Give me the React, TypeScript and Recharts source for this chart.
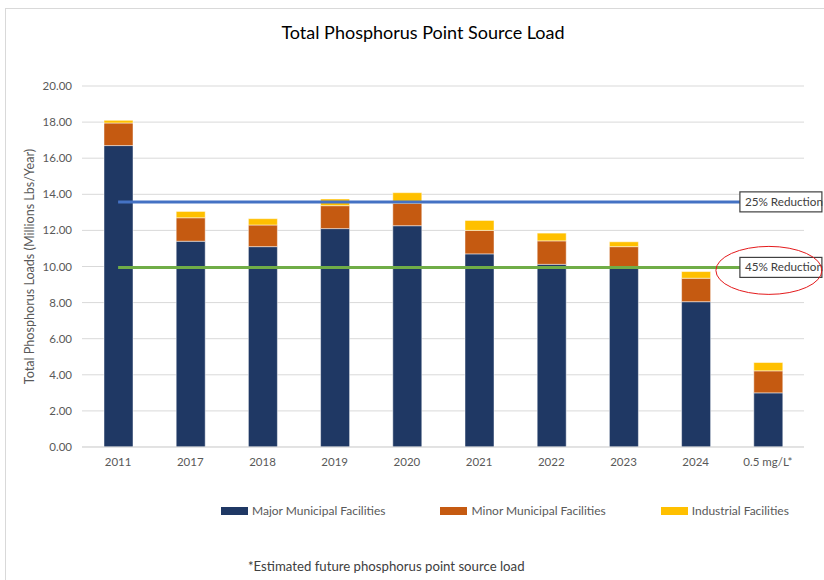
import React from 'react';
import { BarChart, Bar, XAxis, YAxis, CartesianGrid, ReferenceLine } from 'recharts';

const CATEGORIES = ['2011', '2017', '2018', '2019', '2020', '2021', '2022', '2023', '2024', '0.5 mg/L*'];
const MAJOR = [16.7, 11.4, 11.1, 12.1, 12.26, 10.7, 10.12, 9.95, 8.05, 3.0];
const MINOR = [1.25, 1.3, 1.2, 1.27, 1.24, 1.3, 1.3, 1.15, 1.3, 1.22];
const INDUSTRIAL = [0.15, 0.35, 0.35, 0.37, 0.59, 0.55, 0.43, 0.27, 0.37, 0.46];
const Y_TICKS = [0, 2, 4, 6, 8, 10, 12, 14, 16, 18, 20];

const SERIES = [
  { key: 'major', name: 'Major Municipal Facilities', color: '#1f3864' },
  { key: 'minor', name: 'Minor Municipal Facilities', color: '#c55a11' },
  { key: 'industrial', name: 'Industrial Facilities', color: '#ffc000' },
];

const TARGETS = [
  { label: '25% Reduction', value: 13.58, color: '#4472c4', circled: false },
  { label: '45% Reduction', value: 9.95, color: '#70ad47', circled: true },
];

const data = CATEGORIES.map((c, i) => ({
  category: c,
  major: MAJOR[i],
  minor: MINOR[i],
  industrial: INDUSTRIAL[i],
}));

const FONT = 'Lato, "Open Sans", sans-serif';
const GREY = '#595959';

const TargetLabel = ({ viewBox, text, circled }: any) => {
  if (!viewBox) return null;
  const x = viewBox.x + viewBox.width - 28;
  const y = viewBox.y;
  return (
    <g>
      <rect x={x} y={y - 10} width={82} height={20} fill="#fff" stroke="#404040" strokeWidth={1.2} />
      <text x={x + 5} y={y + 4} fontSize={11.7} fill="#404040" fontFamily={FONT}>{text}</text>
      {circled && <ellipse cx={x + 29} cy={y + 3} rx={53} ry={24} fill="none" stroke="#e41a1c" strokeWidth={1} />}
    </g>
  );
};

export default function App() {
  return (
    <div style={{ position: 'relative', width: 824, height: 580, overflow: 'hidden', fontFamily: FONT, background: '#fff' }}>
      <style>{'body{margin:0}'}</style>
      <div style={{ position: 'absolute', left: 5, top: 8, width: 840, height: 600, border: '1px solid #d9d9d9' }} />
      <div style={{ position: 'absolute', left: 11, top: 21, width: 824, textAlign: 'center', fontSize: 18, color: '#000' }}>
        Total Phosphorus Point Source Load
      </div>
      <BarChart
        width={824}
        height={580}
        data={data}
        margin={{ top: 86, right: 20, bottom: 103, left: 22 }}
        barSize={29}
      >
        <CartesianGrid vertical={false} stroke="#d9d9d9" />
        <XAxis
          dataKey="category"
          height={30}
          axisLine={{ stroke: '#d9d9d9' }}
          tickLine={false}
          tickSize={0}
          tickMargin={11}
          tick={{ fontSize: 11.5, fill: GREY, fontFamily: FONT }}
        />
        <YAxis
          width={60}
          domain={[0, 20]}
          ticks={Y_TICKS}
          axisLine={false}
          tickLine={false}
          tickSize={0}
          tickMargin={10}
          tickFormatter={(v: number) => v.toFixed(2)}
          tick={{ fontSize: 11.5, fill: GREY, fontFamily: FONT }}
          label={{
            value: 'Total Phosphorus Loads (Millions Lbs/Year)',
            angle: -90,
            position: 'insideLeft',
            offset: 8,
            style: { textAnchor: 'middle', fontSize: 12.6, fill: GREY, fontFamily: FONT },
          }}
        />
        {SERIES.map((s) => (
          <Bar
            key={s.key}
            dataKey={s.key}
            name={s.name}
            stackId="load"
            fill={s.color}
            stroke="#ffffff"
            strokeOpacity={0.6}
            strokeWidth={0.8}
            isAnimationActive={false}
          />
        ))}
        {TARGETS.map((t) => (
          <ReferenceLine
            key={t.label}
            segment={[
              { x: CATEGORIES[0], y: t.value },
              { x: CATEGORIES[CATEGORIES.length - 1], y: t.value },
            ]}
            stroke={t.color}
            strokeWidth={3}
            label={(p: any) => <TargetLabel {...p} text={t.label} circled={t.circled} />}
          />
        ))}
      </BarChart>
      <div style={{ position: 'absolute', left: 221, top: 503, display: 'flex', alignItems: 'center', fontSize: 12, color: GREY }}>
        {SERIES.map((s, i) => (
          <div key={s.key} style={{ display: 'flex', alignItems: 'center', marginLeft: i === 0 ? 0 : 55 }}>
            <span style={{ display: 'inline-block', width: 27, height: 8, background: s.color, marginRight: 4 }} />
            <span>{s.name}</span>
          </div>
        ))}
      </div>
      <div style={{ position: 'absolute', left: 248, top: 558, fontSize: 13.2, color: '#404040' }}>
        *Estimated future phosphorus point source load
      </div>
    </div>
  );
}
